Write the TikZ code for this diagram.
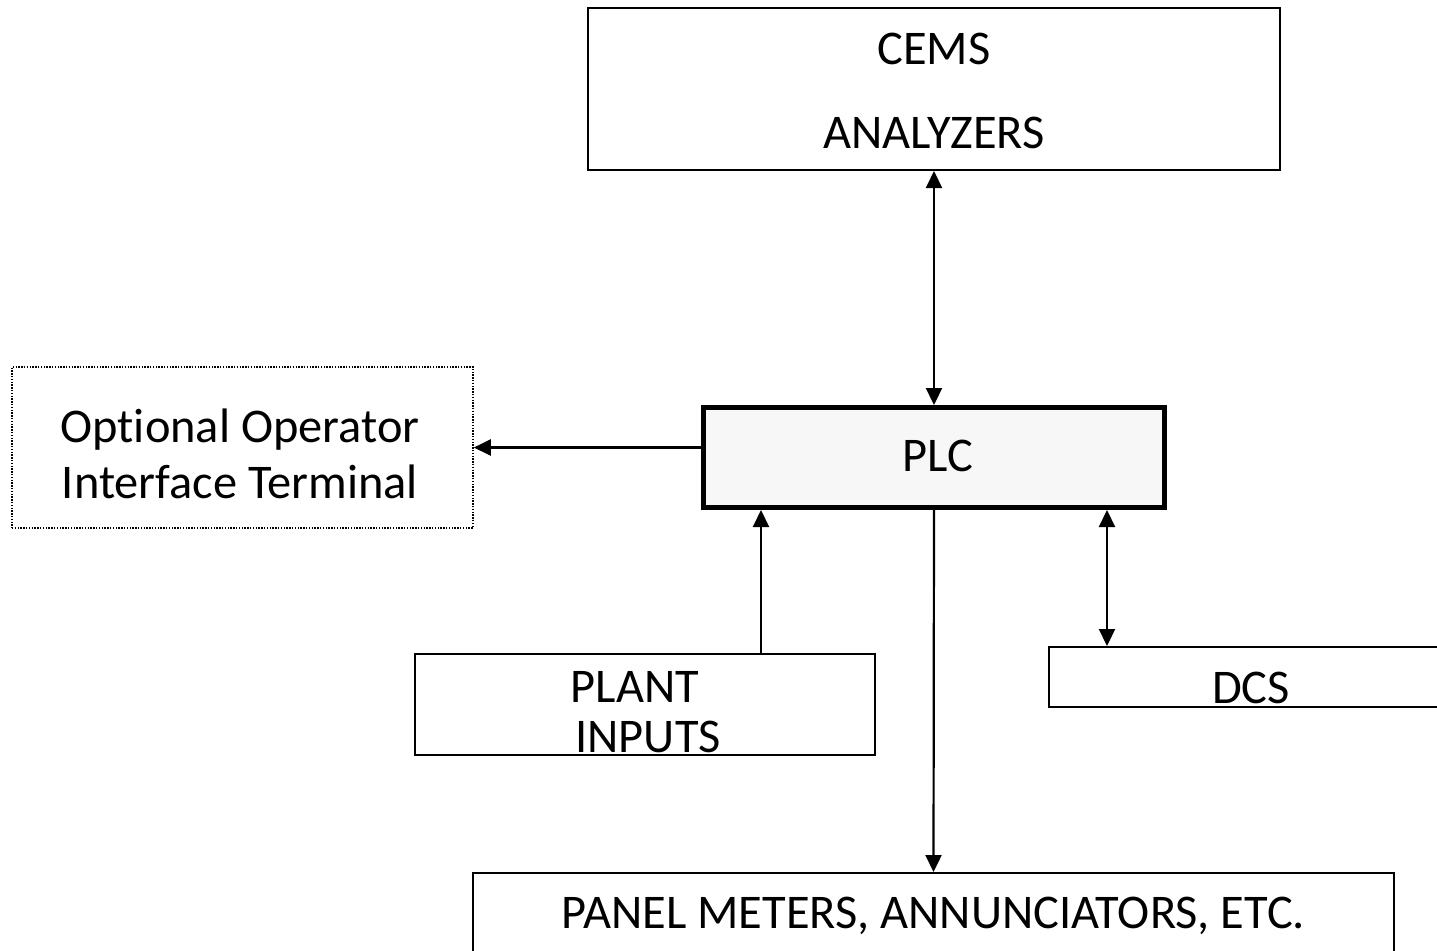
\documentclass[tikz,border=0pt]{standalone}
\usepackage{fontspec}
\setmainfont{Carlito}[Ligatures=NoCommon]
\usetikzlibrary{arrows.meta}
\definecolor{plcfill}{HTML}{F7F7F7}
\begin{document}
\begin{tikzpicture}[x=0.5pt,y=-0.5pt,
  box/.style={draw=black,line width=1pt,rectangle,inner sep=0pt,fill=white},
  optbox/.style={draw=black,line width=0.8pt,dash pattern=on 0.7pt off 0.7pt,rectangle,inner sep=0pt},
  plcbox/.style={draw=black,line width=2.5pt,rectangle,inner sep=0pt,fill=plcfill},
  lbl/.style={anchor=base,inner sep=0pt,font=\fontsize{24.2}{29}\selectfont},
  link/.style={line width=1.1pt,-{Triangle[length=8.5pt,width=8pt]}},
  blink/.style={line width=1.1pt,{Triangle[length=8.5pt,width=8pt]}-{Triangle[length=8.5pt,width=8pt]}}]
\useasboundingbox (0,0) rectangle (1437,950);

% boxes
\node[box,minimum width=346pt,minimum height=81pt] (cems) at (934,89) {};
\node[optbox,minimum width=230.5pt,minimum height=80.5pt] (opt) at (242.5,447.5) {};
\node[plcbox,minimum width=230.5pt,minimum height=50pt] (plc) at (934,457.5) {};
\node[box,minimum width=230pt,minimum height=50.5pt] (plant) at (645,704.5) {};
\node[box,minimum width=205.5pt,minimum height=30pt] (dcs) at (1254.5,677) {};
\node[box,minimum width=460.5pt,minimum height=63.5pt] (panel) at (933.5,936.5) {};

% labels
\node[lbl] (cemsA) at (934,64) {CEMS};
\node[lbl] (cemsB) at (934,148) {ANALYZERS};
\node[lbl] (optA) at (240,442) {Optional Operator};
\node[lbl] (optB) at (240,498) {Interface Terminal};
\node[lbl] (plcT) at (938,471) {PLC};
\node[lbl] (plantA) at (635,702) {PLANT};
\node[lbl] (plantB) at (648,752) {INPUTS};
\node[lbl] (dcsT) at (1251,703) {DCS};
\node[lbl] (panelT) at (933.5,928) {PANEL METERS, ANNUNCIATORS, ETC.};

% connectors
\draw[blink] (cems.south) -- (plc.north);
\draw[link] (opt.east -| plc.west) -- (opt.east);
\draw[link] ([xshift=58pt]plant.north) -- ([xshift=58pt]plant.north |- plc.south);
\draw[blink] ([xshift=86.5pt]plc.south) -- ([xshift=86.5pt]plc.south |- dcs.north);
\draw[link] (plc.south) -- (panel.north);
\end{tikzpicture}
\end{document}
